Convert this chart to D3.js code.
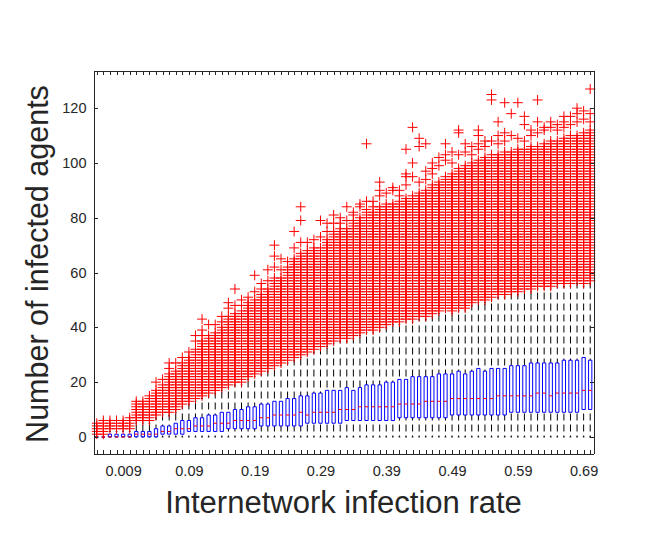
<!DOCTYPE html>
<html>
<head>
<meta charset="utf-8">
<script src="https://cdn.jsdelivr.net/npm/d3@7"></script>
<style>
  body { margin: 0; background: #fff; }
  text { font-family: "Liberation Sans", Arial, Helvetica, sans-serif; fill: #262626; }
</style>
</head>
<body>
<div id="chart"></div>
<script>
// one box per infection rate, 76 groups
const xTickPositions = [5, 15, 25, 35, 45, 55, 65, 75];
const xTickLabels = ["0.009", "0.09", "0.19", "0.29", "0.39", "0.49", "0.59", "0.69"];
const yTicks = [0, 20, 40, 60, 80, 100, 120];

const q1 = [0,0,0,0,0,0,0,0,0,0, 1,1,1,1,2,2,2,2,2,2, 3,3,3,3,3,4,4,4,4,4,
  4,4,5,5,5,5,5,5,6,6, 6,6,6,6,6,6,7,7,7,7, 7,7,7,7,8,8,8,8,8,8,
  8,8,8,9,9,9,9,9,9,9, 9,9,9,9,10,10];
const medians = [0,0,0,0,0,0,1,1,1,1, 2,2,3,3,3,4,4,4,5,5, 5,6,6,6,6,7,7,8,8,8,
  8,9,8,9,9,9,9,10,10,10, 11,11,11,11,11,11,12,12,12,12, 13,13,13,13,14,14,14,14,14,14,
  14,15,15,15,15,15,15,16,16,15, 16,16,16,16,17,17];
const q3 = [0,0,1,1,1,1,2,2,2,3, 4,4,5,6,6,7,7,8,8,9, 9,10,10,11,11,12,12,13,13,14,
  14,15,15,16,16,17,17,17,18,17, 18,19,19,19,20,20,21,21,22,22, 22,22,23,23,23,24,23,24,25,24,
  25,25,25,26,26,26,27,27,27,27, 27,28,28,28,29,28];
const whiskerLow = new Array(76).fill(0);
const whiskerHigh = [0,0,2,2,2,2,5,5,5,7, 8,8,9,11,12,13,14,15,16,17, 18,19,19,21,22,23,24,25,26,27,
  28,29,30,31,32,33,34,35,35,36, 37,38,38,39,40,41,41,42,42,43, 43,44,45,46,45,46,46,48,49,49,
  50,51,51,52,52,53,53,54,54,54, 55,55,55,56,55,56];
// counts are integers: every count from whiskerHigh+1 up to outlierTop shows a marker
const outlierTop = [5,6,6,6,6,7,13,13,15,17, 19,23,24,27,29,32,35,37,38,40, 44,45,46,49,50,52,54,58,58,62,
  65,67,68,69,69,72,75,76,76,79, 80,82,82,84,85,85,86,87,88,89, 90,92,93,95,96,98,99,100,101,102,
  103,103,104,104,105,105,106,106,107,108, 108,109,110,110,111,112];
// scattered outliers above the solid band: [group, count]
const extraOutliers = [[10,20],[11,21],[12,25],[12,27],[13,27],[14,29],[15,31],[16,35],[16,37],[17,37],[17,39],[17,43],
  [18,41],[19,41],[20,42],[20,44],[21,47],[21,49],[22,48],[22,54],[23,48],[23,50],[24,51],[25,53],[25,59],[26,54],[26,56],
  [27,57],[27,61],[28,62],[28,66],[28,70],[29,61],[29,65],[30,64],[31,69],[31,75],[32,71],[32,79],[32,84],[33,71],[34,72],
  [35,73],[35,79],[36,75],[36,78],[37,78],[37,81],[38,78],[38,80],[39,79],[39,84],[40,81],[40,82],[41,84],[41,85],[42,83],
  [42,86],[42,107],[43,84],[43,86],[44,88],[44,90],[44,93],[45,89],[46,90],[46,91],[47,88],[47,90],[48,92],[48,95],[48,96],
  [48,105],[49,95],[49,100],[49,113],[50,93],[50,106],[50,109],[51,94],[51,97],[51,107],[52,96],[52,98],[52,100],[53,99],
  [53,102],[54,101],[54,103],[54,107],[55,100],[55,104],[56,103],[56,111],[56,112],[57,104],[57,107],[58,103],[58,106],
  [59,105],[59,107],[59,110],[59,112],[60,106],[60,108],[61,108],[61,123],[61,125],[62,107],[62,110],[62,115],[63,108],
  [63,111],[63,122],[64,110],[64,118],[65,109],[65,122],[66,108],[66,114],[66,117],[67,110],[67,112],[68,111],[68,115],
  [68,123],[69,112],[69,113],[70,113],[70,115],[71,112],[71,114],[72,113],[72,115],[72,117],[73,114],[73,117],[74,115],
  [74,118],[74,120],[75,116],[75,119],[76,115],[76,118],[76,127]];

const W = 664, H = 554;
const L = 93.5, R = 593.5, T = 70.5, B = 453.5;
const AXIS_COLOR = "#262626";
const MARK = 5; // half size of the "+" marker

const svg = d3.select("#chart").append("svg")
  .attr("width", W)
  .attr("height", H);

const groups = d3.range(1, q1.length + 1);
const x = d3.scaleLinear().domain([0.5, groups.length + 0.5]).range([L, R]);
const y = d3.scaleLinear().domain([-6.05, 133.75]).range([B, T]);
const step = x(2) - x(1);
const boxW = step * 0.5;

// whiskers (dash pattern anchored to the plot bottom so rows line up)
const DASH = "7,4", PERIOD = 11;
const wg = svg.append("g").attr("stroke", "#000").attr("stroke-width", 1).attr("fill", "none");
groups.forEach((g, i) => {
  const cx = x(g);
  if (whiskerHigh[i] > q3[i]) {
    const y0 = y(q3[i]);
    wg.append("line")
      .attr("x1", cx).attr("x2", cx)
      .attr("y1", y0).attr("y2", y(whiskerHigh[i]))
      .attr("stroke-dasharray", DASH)
      .attr("stroke-dashoffset", (B - y0) % PERIOD);
  }
  if (q1[i] > whiskerLow[i]) {
    const y0 = y(whiskerLow[i]);
    wg.append("line")
      .attr("x1", cx).attr("x2", cx)
      .attr("y1", y0).attr("y2", y(q1[i]))
      .attr("stroke-dasharray", DASH)
      .attr("stroke-dashoffset", (B - y0) % PERIOD);
  }
  [whiskerLow[i], whiskerHigh[i]].forEach(v => {
    wg.append("line")
      .attr("x1", cx - boxW / 4).attr("x2", cx + boxW / 4)
      .attr("y1", y(v)).attr("y2", y(v));
  });
});

// boxes
svg.append("g")
  .selectAll("path")
  .data(groups)
  .join("path")
  .attr("fill", "none")
  .attr("stroke", "#0000ff")
  .attr("stroke-width", 1)
  .attr("d", (g, i) => {
    const x0 = x(g) - boxW / 2, x1 = x(g) + boxW / 2;
    return `M${x0},${y(q1[i])}H${x1}V${y(q3[i])}H${x0}Z`;
  });

// medians
svg.append("g")
  .selectAll("line")
  .data(groups)
  .join("line")
  .attr("stroke", "#ff0000")
  .attr("stroke-width", 1)
  .attr("x1", g => x(g) - boxW / 2)
  .attr("x2", g => x(g) + boxW / 2)
  .attr("y1", (g, i) => y(medians[i]))
  .attr("y2", (g, i) => y(medians[i]));

// outliers
const outliers = [];
groups.forEach((g, i) => {
  for (let v = whiskerHigh[i] + 1; v <= outlierTop[i]; v++) outliers.push([g, v]);
});
extraOutliers.forEach(d => outliers.push(d));

svg.append("g")
  .selectAll("path")
  .data(outliers)
  .join("path")
  .attr("fill", "none")
  .attr("stroke", "#ff0000")
  .attr("stroke-width", 1)
  .attr("d", d => `M${x(d[0]) - MARK},${y(d[1])}h${2 * MARK}M${x(d[0])},${y(d[1]) - MARK}v${2 * MARK}`);

// axes, ticks pointing inward on all four sides
function styleAxis(sel) {
  sel.selectAll("path, line").attr("stroke", AXIS_COLOR).attr("shape-rendering", "crispEdges");
  sel.selectAll("text").attr("fill", AXIS_COLOR).style("font-size", "14.5px")
    .style("font-family", '"Liberation Sans", Arial, Helvetica, sans-serif');
}

svg.append("g")
  .attr("transform", `translate(0,${B})`)
  .call(d3.axisBottom(x).tickValues(groups).tickSize(-4).tickSizeOuter(0).tickPadding(12)
    .tickFormat(g => {
      const k = xTickPositions.indexOf(g);
      return k >= 0 ? xTickLabels[k] : "";
    }))
  .call(styleAxis);

svg.append("g")
  .attr("transform", `translate(0,${T})`)
  .call(d3.axisTop(x).tickValues(groups).tickSize(-4).tickSizeOuter(0).tickFormat(""))
  .call(styleAxis);

svg.append("g")
  .attr("transform", `translate(${L},0)`)
  .call(d3.axisLeft(y).tickValues(yTicks).tickSize(-4).tickSizeOuter(0).tickPadding(7))
  .call(styleAxis);

svg.append("g")
  .attr("transform", `translate(${R},0)`)
  .call(d3.axisRight(y).tickValues(yTicks).tickSize(-4).tickSizeOuter(0).tickFormat(""))
  .call(styleAxis);

// axis labels
svg.append("text")
  .attr("x", (L + R) / 2)
  .attr("y", 513)
  .attr("text-anchor", "middle")
  .style("font-size", "31px")
  .text("Internetwork infection rate");

svg.append("text")
  .attr("transform", `translate(48,${(T + B) / 2 + 2}) rotate(-90)`)
  .attr("text-anchor", "middle")
  .style("font-size", "30.5px")
  .text("Number of infected agents");
</script>
</body>
</html>
